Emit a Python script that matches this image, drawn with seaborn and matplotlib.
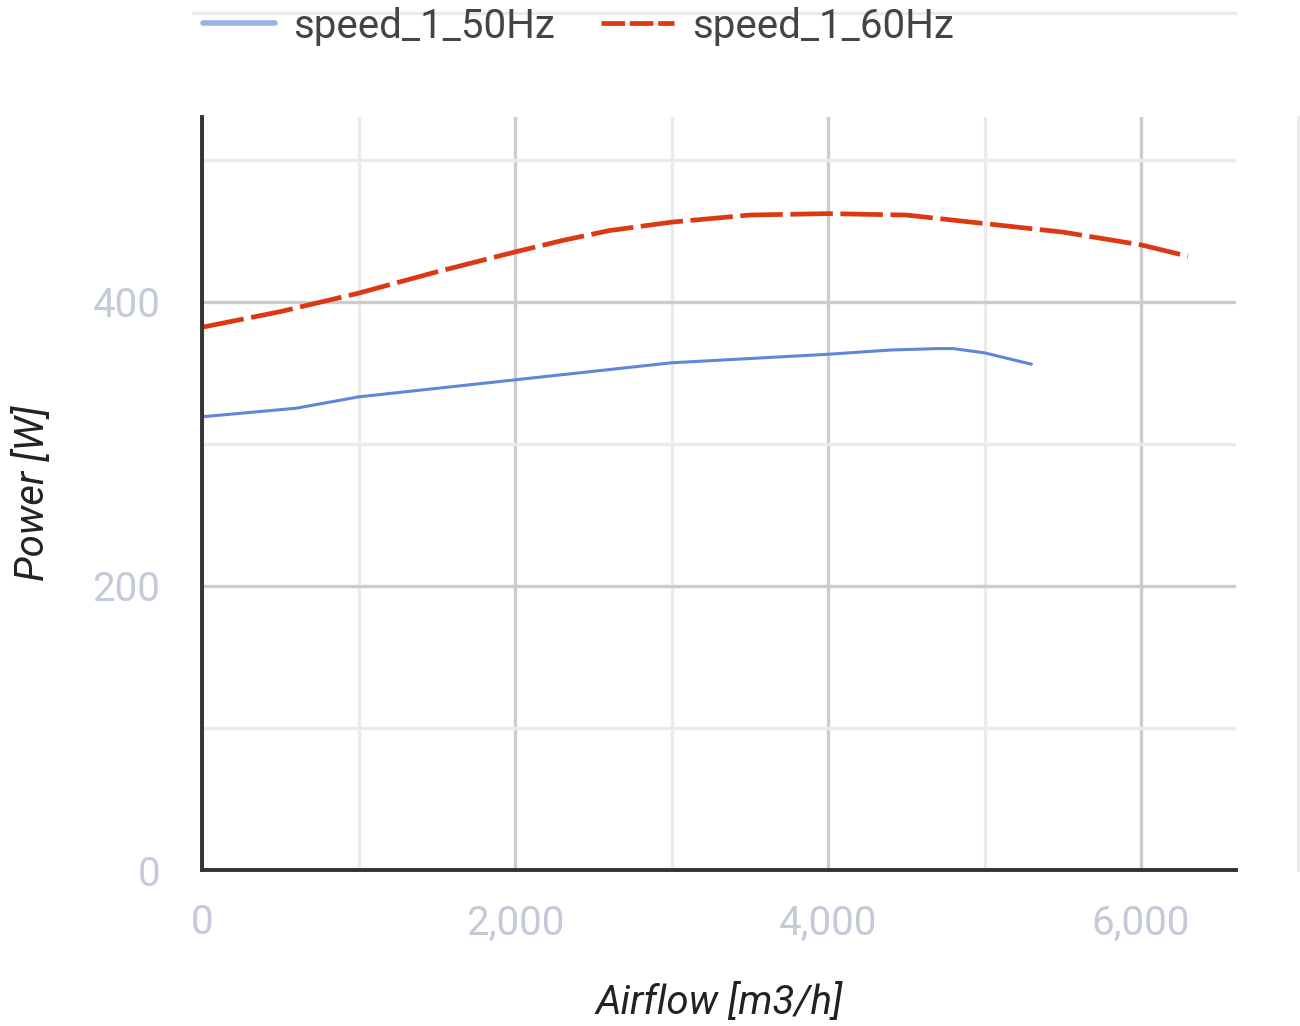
import numpy as np
import pandas as pd
import matplotlib
matplotlib.use("Agg")
import matplotlib.pyplot as plt
import matplotlib.ticker as mticker
from matplotlib import font_manager
import seaborn as sns

# values
airflow_50 = [0, 300, 600, 1000, 1500, 2000, 2500, 3000, 3500, 4000, 4400, 4700, 4800, 5000, 5150, 5300]
power_50 = [319, 322, 325, 333, 339, 345, 351, 357, 360, 363, 366, 367, 367, 364, 360, 356]

airflow_60 = [0, 500, 1000, 1500, 2000, 2300, 2600, 3000, 3500, 4000, 4500, 5000, 5500, 6000, 6300]
power_60 = [382, 393, 406, 421, 435, 443, 450, 456, 461, 462, 461, 455, 449, 440, 432]

series_names = ["speed_1_50Hz", "speed_1_60Hz"]
x_ticks = [0, 2000, 4000, 6000]
y_ticks = [0, 200, 400]

sns.set_theme(style="white")
installed = {f.name for f in font_manager.fontManager.ttflist}
fam = [f for f in ["Liberation Sans Narrow", "Roboto", "DejaVu Sans"] if f in installed]
plt.rcParams["font.family"] = fam

fig = plt.figure(figsize=(13, 10.26), dpi=100)
ax = fig.add_axes([202 / 1300, 1 - 870 / 1026, (1236 - 202) / 1300, (870 - 117) / 1026])

df50 = pd.DataFrame({"Airflow": airflow_50, "Power": power_50})
df60 = pd.DataFrame({"Airflow": airflow_60, "Power": power_60})

sns.lineplot(data=df50, x="Airflow", y="Power", ax=ax, color="#5f86d8", linewidth=2.2,
             label=series_names[0], sort=False, estimator=None)
sns.lineplot(data=df60, x="Airflow", y="Power", ax=ax, color="#dc3912", linewidth=3.4,
             label=series_names[1], sort=False, estimator=None)
ax.lines[1].set_dashes([9, 1.6])

ax.set_xlim(0, 6607)
ax.set_ylim(0, 530)
ax.set_xticks(x_ticks)
ax.set_yticks(y_ticks)
ax.xaxis.set_minor_locator(mticker.FixedLocator([1000, 3000, 5000]))
ax.yaxis.set_minor_locator(mticker.FixedLocator([100, 300, 500]))
ax.xaxis.set_major_formatter(mticker.FuncFormatter(lambda v, p: f"{int(v):,}"))

ax.grid(which="major", color="#cccccc", linewidth=2.4)
ax.grid(which="minor", color="#ebebeb", linewidth=2.4)
ax.set_axisbelow(True)

for s in ["top", "right"]:
    ax.spines[s].set_visible(False)
for s in ["left", "bottom"]:
    ax.spines[s].set_color("#333333")
    ax.spines[s].set_linewidth(2.8)
    ax.spines[s].set_zorder(3)

ax.tick_params(which="both", length=0)
ax.tick_params(axis="y", pad=30, labelsize=29, labelcolor="#c5cad9")
ax.tick_params(axis="x", pad=24, labelsize=29, labelcolor="#c5cad9")

ax.set_xlabel("Airflow [m3/h]", fontsize=29, style="italic", color="#222222", labelpad=29)
ax.set_ylabel("Power [W]", fontsize=29, style="italic", color="#222222", labelpad=29)

ax.legend_.remove()
handles, labels = ax.get_legend_handles_labels()
leg = fig.legend(handles, labels, loc="center left", bbox_to_anchor=(0.128, 1 - 26 / 1026), ncol=2,
                 frameon=False, fontsize=29, handlelength=1.8, handletextpad=0.45,
                 columnspacing=1.15, labelcolor="#444444")
leg.legend_handles[0].set_color("#97b2e5")
leg.legend_handles[0].set_linewidth(4)
leg.legend_handles[1].set_dashes([5, 1])

# clipped chart frame edges visible in the screenshot
fig.add_artist(plt.Line2D([193 / 1300, 1236 / 1300], [1 - 13 / 1026] * 2, color="#ebebeb", linewidth=2.4))
fig.add_artist(plt.Line2D([1298 / 1300] * 2, [1 - 117 / 1026, 1 - 870 / 1026], color="#ebebeb", linewidth=2.4))

fig.savefig("out.png", dpi=100)
